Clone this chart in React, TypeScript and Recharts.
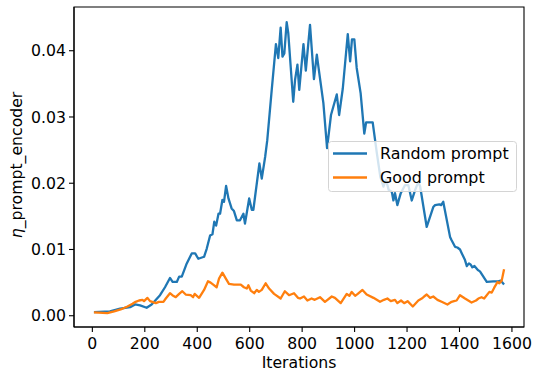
import React from "react";
import { LineChart, Line, XAxis, YAxis, Legend, ReferenceArea } from "recharts";

// iterations / values
const randomIters = [
  6, 67, 106, 144, 163, 182, 207, 226, 258, 277, 296, 306, 322, 331, 341, 360, 379, 392, 404, 426,
  436, 449, 458, 465, 472, 481, 487, 496, 502, 510, 519, 531, 540, 551, 563, 576, 582, 598, 608, 614,
  637, 646, 659, 667, 684, 700, 709, 718, 725, 732, 741, 747, 766, 773, 782, 789, 805, 814, 830, 845,
  856, 862, 881, 895, 910, 932, 941, 955, 974, 983, 990, 999, 1008, 1023, 1037, 1044, 1069, 1085, 1098, 1110,
  1120, 1130, 1142, 1148, 1154, 1163, 1176, 1192, 1205, 1218, 1231, 1243, 1250, 1275, 1300, 1307, 1323, 1330, 1338, 1364,
  1370, 1383, 1392, 1402, 1409, 1421, 1428, 1436, 1443, 1449, 1457, 1470, 1478, 1504, 1529, 1548, 1557, 1570,
];
const randomVals = [
  0.00054, 0.00065, 0.00106, 0.0013, 0.0017, 0.00156, 0.0012, 0.0017, 0.0031, 0.0043, 0.0057, 0.0051, 0.0051, 0.0059, 0.0059, 0.0079, 0.0094, 0.0094, 0.0086, 0.0089,
  0.0101, 0.0121, 0.0123, 0.0142, 0.0136, 0.0154, 0.0154, 0.0175, 0.0172, 0.0196, 0.0177, 0.0162, 0.0158, 0.0144, 0.0144, 0.0154, 0.0139, 0.0177, 0.016, 0.016,
  0.023, 0.0207, 0.024, 0.0265, 0.0341, 0.041, 0.0389, 0.0435, 0.0391, 0.0396, 0.0443, 0.0427, 0.0323, 0.0356, 0.0379, 0.0341, 0.041, 0.037, 0.0439, 0.0357,
  0.0394, 0.0376, 0.0321, 0.0253, 0.0303, 0.0334, 0.0303, 0.0343, 0.0425, 0.0384, 0.0417, 0.0417, 0.0374, 0.0336, 0.0275, 0.0292, 0.0292, 0.0245, 0.021, 0.0195,
  0.0205, 0.019, 0.0187, 0.0174, 0.0185, 0.0167, 0.0185, 0.0197, 0.0197, 0.0174, 0.019, 0.0202, 0.0195, 0.0134, 0.0164, 0.0167, 0.0168, 0.0167, 0.0172, 0.0119,
  0.0114, 0.0104, 0.0103, 0.01, 0.0094, 0.0084, 0.0075, 0.0079, 0.0077, 0.0073, 0.0075, 0.0069, 0.0067, 0.0051, 0.0052, 0.0052, 0.0053, 0.0047,
];

const goodIters = [
  6, 57, 83, 108, 134, 153, 165, 178, 191, 197, 210, 220, 242, 254, 271, 280, 296, 305, 318, 331,
  343, 356, 375, 384, 390, 407, 426, 441, 451, 461, 474, 483, 496, 509, 521, 540, 566, 578, 589, 595,
  604, 617, 627, 635, 646, 661, 674, 693, 718, 734, 750, 769, 784, 792, 807, 820, 836, 848, 868, 887,
  913, 925, 947, 970, 980, 989, 1002, 1012, 1030, 1046, 1072, 1097, 1112, 1125, 1138, 1154, 1163, 1177, 1189, 1202,
  1222, 1243, 1256, 1265, 1275, 1288, 1300, 1316, 1332, 1354, 1370, 1379, 1389, 1402, 1421, 1446, 1463, 1472, 1484, 1494,
  1514, 1523, 1532, 1545, 1552, 1561, 1570,
];
const goodVals = [
  0.0005, 0.0004, 0.00065, 0.00095, 0.0014, 0.0018, 0.0021, 0.0023, 0.0024, 0.0022, 0.0027, 0.0022, 0.0019, 0.0021, 0.0021, 0.0026, 0.0034, 0.0031, 0.0028, 0.0033,
  0.0037, 0.0032, 0.0031, 0.0028, 0.0033, 0.0027, 0.0039, 0.0052, 0.005, 0.0047, 0.0043, 0.0056, 0.0065, 0.0056, 0.0048, 0.0047, 0.0047, 0.0043, 0.0041, 0.0046,
  0.0038, 0.0034, 0.0039, 0.0036, 0.0039, 0.0049, 0.0041, 0.0033, 0.0026, 0.0037, 0.0031, 0.0034, 0.0027, 0.0026, 0.0029, 0.0023, 0.0026, 0.0024, 0.0028, 0.0021,
  0.0029, 0.0027, 0.0019, 0.0033, 0.003, 0.0036, 0.003, 0.0033, 0.0039, 0.0032, 0.0027, 0.0021, 0.0024, 0.0026, 0.0022, 0.0024, 0.0019, 0.0023, 0.0019, 0.0022,
  0.0014, 0.0023, 0.0026, 0.0029, 0.0032, 0.0027, 0.0029, 0.0024, 0.0021, 0.0017, 0.0021, 0.0022, 0.0023, 0.0031, 0.0026, 0.002, 0.0023, 0.0026, 0.0028, 0.0026,
  0.0036, 0.0035, 0.0042, 0.0051, 0.0049, 0.0053, 0.007,
];

const xTicks = [0, 200, 400, 600, 800, 1000, 1200, 1400, 1600];
const yTicks = [0, 0.01, 0.02, 0.03, 0.04];
const xDomain = [-70, 1646];
const yDomain = [-0.0017, 0.0466];

const randomData = randomIters.map((it, i) => ({ iter: it, value: randomVals[i] }));
const goodData = goodIters.map((it, i) => ({ iter: it, value: goodVals[i] }));

const FONT = "'DejaVu Sans', sans-serif";
const BLUE = "#1f77b4";
const ORANGE = "#ff7f0e";
const tickStyle = { fontSize: 15.7, fill: "#000", fontFamily: FONT };

function LegendBox() {
  return (
    <svg width={190} height={52} style={{ display: "block", fontFamily: FONT }}>
      <rect x={0.5} y={0.5} width={188} height={50} rx={3} fill="#fff" fillOpacity={0.8} stroke="#d4d4d4" />
      <line x1={5} x2={39} y1={12.5} y2={12.5} stroke={BLUE} strokeWidth={2.3} />
      <text x={52} y={12.5} fontSize={15.9} dominantBaseline="central" fill="#000">Random prompt</text>
      <line x1={5} x2={39} y1={36.5} y2={36.5} stroke={ORANGE} strokeWidth={2.3} />
      <text x={52} y={36.5} fontSize={15.9} dominantBaseline="central" fill="#000">Good prompt</text>
    </svg>
  );
}

export default function App() {
  return (
    <div style={{ position: "absolute", left: 0, top: 0, background: "#fff" }}>
      <LineChart width={540} height={380} data={randomData} margin={{ top: 7, right: 16, bottom: 0, left: 0 }}>
        <XAxis
          dataKey="iter" type="number" domain={xDomain} ticks={xTicks} allowDataOverflow
          height={53} tickSize={5} tickMargin={6} tick={tickStyle}
          axisLine={{ stroke: "#000", strokeWidth: 1.1 }} tickLine={{ stroke: "#000", strokeWidth: 1.1 }}
          label={(props: any) => {
            const vb = props.viewBox;
            return <text x={vb.x + vb.width / 2} y={368} textAnchor="middle" fontSize={15.7} fontFamily={FONT} fill="#000">Iterations</text>;
          }}
        />
        <YAxis
          type="number" domain={yDomain} ticks={yTicks} allowDataOverflow
          width={74} tickSize={5} tickMargin={3} tick={tickStyle}
          tickFormatter={(v: number) => v.toFixed(2)}
          axisLine={{ stroke: "#000", strokeWidth: 1.1 }} tickLine={{ stroke: "#000", strokeWidth: 1.1 }}
          label={(props: any) => {
            const vb = props.viewBox;
            const cy = vb.y + vb.height / 2 - 2;
            return (
              <text x={22} y={cy} transform={`rotate(-90, 22, ${cy})`} textAnchor="middle" fontSize={15.7} fontFamily={FONT} fill="#000">
                <tspan fontStyle="italic">η</tspan>
                <tspan>_prompt_encoder</tspan>
              </text>
            );
          }}
        />
        {/* frame: matplotlib draws all four spines */}
        <ReferenceArea x1={xDomain[0]} x2={xDomain[1]} y1={yDomain[0]} y2={yDomain[1]}
          fill="none" stroke="#000" strokeWidth={1.1} ifOverflow="visible" />
        <Line data={randomData} dataKey="value" name="Random prompt" stroke={BLUE} strokeWidth={2.3} dot={false} isAnimationActive={false} strokeLinejoin="round" />
        <Line data={goodData} dataKey="value" name="Good prompt" stroke={ORANGE} strokeWidth={2.3} dot={false} isAnimationActive={false} strokeLinejoin="round" />
        <Legend
          layout="horizontal" verticalAlign="middle" align="center"
          content={() => <LegendBox />}
          wrapperStyle={{ left: 328, top: 141, width: 190, height: 52 }}
        />
      </LineChart>
    </div>
  );
}
